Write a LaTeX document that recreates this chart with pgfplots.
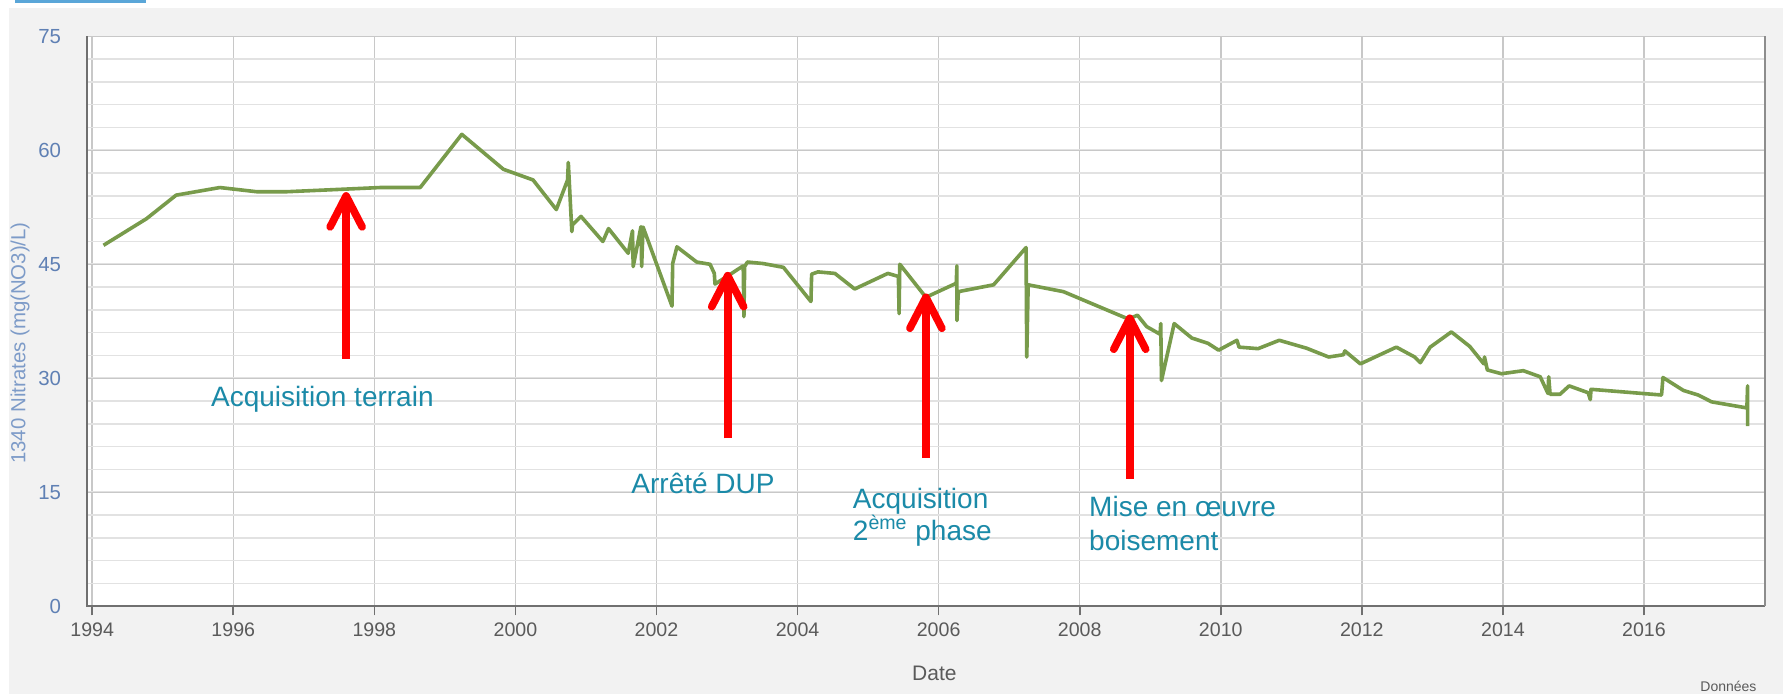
\documentclass[border=0pt]{standalone}
\usepackage{pgfplots}
\pgfplotsset{compat=1.18}
\usepackage{fontspec}
\setmainfont{Liberation Sans}
\definecolor{bg}{HTML}{F2F2F2}
\definecolor{tab}{HTML}{5AA6D8}
\definecolor{linegreen}{RGB}{120,155,75}
\definecolor{gridmaj}{HTML}{C8C8C8}
\definecolor{gridmin}{HTML}{E2E2E2}
\definecolor{axisdark}{HTML}{707070}
\definecolor{xtickcol}{HTML}{5A5A5A}
\definecolor{ytickcol}{RGB}{95,128,180}
\definecolor{ylabcol}{RGB}{125,155,200}
\definecolor{annot}{RGB}{27,138,168}
\definecolor{arrowred}{RGB}{255,0,0}
\begin{document}
\begin{tikzpicture}
\useasboundingbox (0,0) rectangle (891.5pt,347pt);
\fill[bg] (4.5pt,0) rectangle (891.5pt,343pt);
\fill[tab] (7.5pt,345.25pt) rectangle (73pt,347pt);
\node[anchor=south west, inner sep=0pt, font=\fontsize{7}{8}\selectfont, text=xtickcol] at (850pt,1pt) {Données};
\begin{axis}[
  at={(43.5pt,43.85pt)}, anchor=south west,
  scale only axis, width=839pt, height=285pt,
  xmin=1993.926, xmax=2017.717, ymin=0, ymax=75,
  clip=false,
  axis background/.style={fill=white},
  axis line style={draw=none},
  xtick={1994,1996,...,2016},
  ytick={0,15,...,75},
  minor ytick={3,6,...,72},
  xtick pos=bottom,
  ytick pos=left,
  grid=both,
  major grid style={color=gridmaj, line width=0.75pt},
  minor grid style={color=gridmin, line width=0.8pt},
  tick align=outside,
  major tick length=4.5pt,
  minor tick length=0pt,
  xtick style={draw=axisdark, line width=0.8pt},
  ytick style={draw=none},
  scaled x ticks=false,
  /pgf/number format/1000 sep={},
  /pgf/number format/assume math mode=true,
  xticklabel style={font=\fontsize{9.8}{11}\selectfont, text=xtickcol},
  yticklabel style={font=\fontsize{10.2}{11}\selectfont, text=ytickcol, xshift=-5pt},
  xlabel={Date},
  xlabel style={at={(axis description cs:0.505,-0.118)}, anchor=center, font=\fontsize{10.5}{11}\selectfont, text=xtickcol},
  ylabel={1340 Nitrates (mg(NO3)/L)},
  ylabel style={at={(axis description cs:-0.0399,0.462)}, anchor=center, font=\fontsize{10.2}{11}\selectfont, text=ylabcol},
]
\addplot[color=linegreen, line width=1.8pt, line join=round, mark=none] table {
1994.16 47.5
1994.77 51.0
1995.19 54.1
1995.81 55.1
1996.33 54.55
1996.76 54.55
1997.61 54.9
1998.08 55.1
1998.65 55.1
1999.24 62.1
1999.83 57.5
2000.25 56.1
2000.58 52.2
2000.74 56.1
2000.75 58.4
2000.80 49.3
2000.81 50.2
2000.93 51.3
2001.24 48.0
2001.32 49.7
2001.60 46.45
2001.66 49.4
2001.67 44.7
2001.78 49.95
2001.79 44.7
2001.81 49.9
2002.22 39.5
2002.23 45.1
2002.29 47.3
2002.57 45.3
2002.76 45.0
2002.82 43.8
2002.83 42.4
2003.00 43.4
2003.23 44.8
2003.24 38.1
2003.25 44.7
2003.29 45.3
2003.51 45.1
2003.80 44.6
2004.19 40.1
2004.20 43.7
2004.29 44.0
2004.53 43.8
2004.81 41.75
2005.28 43.8
2005.43 43.4
2005.44 38.5
2005.45 45.0
2005.82 40.66
2006.25 42.5
2006.26 44.8
2006.26 37.6
2006.28 41.4
2006.78 42.3
2007.24 47.2
2007.25 32.8
2007.27 42.3
2007.77 41.4
2008.69 37.8
2008.82 38.3
2008.95 36.8
2009.14 35.8
2009.15 37.2
2009.16 29.7
2009.34 37.2
2009.59 35.3
2009.82 34.6
2009.97 33.7
2010.23 35.0
2010.26 34.1
2010.53 33.9
2010.83 35.0
2011.22 33.95
2011.53 32.8
2011.74 33.1
2011.76 33.6
2011.98 31.9
2012.49 34.1
2012.75 32.8
2012.83 32.05
2012.97 34.1
2013.27 36.1
2013.53 34.2
2013.73 31.9
2013.74 32.8
2013.78 31.1
2013.98 30.6
2014.29 31.0
2014.53 30.2
2014.64 28.0
2014.65 30.2
2014.67 27.9
2014.81 27.9
2014.94 29.0
2015.21 28.1
2015.24 27.2
2015.25 28.55
2016.25 27.8
2016.27 30.1
2016.56 28.4
2016.77 27.8
2016.96 26.9
2017.46 26.1
2017.47 29.0
2017.47 23.7
};
% frame
\draw[color=axisdark, line width=1.2pt] (rel axis cs:0,1) -- (rel axis cs:0,0) -- (rel axis cs:1,0);
\draw[color=axisdark!80, line width=0.9pt] (rel axis cs:1,0) -- (rel axis cs:1,1);
% red arrows
\draw[arrowred, line width=3.8pt] (axis cs:1997.60,32.6) -- (axis cs:1997.60,53.6);
\draw[arrowred, line width=3.8pt, line cap=round, line join=round] (axis cs:1997.60,54.0) ++(-8pt,-15.5pt) -- (axis cs:1997.60,54.0) -- ++(8pt,-15.5pt);
\draw[arrowred, line width=3.8pt] (axis cs:2003.01,22.1) -- (axis cs:2003.01,43.1);
\draw[arrowred, line width=3.8pt, line cap=round, line join=round] (axis cs:2003.01,43.5) ++(-8pt,-15.5pt) -- (axis cs:2003.01,43.5) -- ++(8pt,-15.5pt);
\draw[arrowred, line width=3.8pt] (axis cs:2005.82,19.5) -- (axis cs:2005.82,40.3);
\draw[arrowred, line width=3.8pt, line cap=round, line join=round] (axis cs:2005.82,40.66) ++(-8pt,-15.5pt) -- (axis cs:2005.82,40.66) -- ++(8pt,-15.5pt);
\draw[arrowred, line width=3.8pt] (axis cs:2008.71,16.75) -- (axis cs:2008.71,37.5);
\draw[arrowred, line width=3.8pt, line cap=round, line join=round] (axis cs:2008.71,37.9) ++(-8pt,-15.5pt) -- (axis cs:2008.71,37.9) -- ++(8pt,-15.5pt);
% annotations
\node[anchor=base west, inner sep=0pt, text=annot, font=\fontsize{14}{16}\selectfont] at (axis cs:1995.68,26.3) {Acquisition terrain};
\node[anchor=base west, inner sep=0pt, text=annot, font=\fontsize{14}{16}\selectfont] at (axis cs:2001.64,14.84) {Arrêté DUP};
\node[anchor=base west, inner sep=0pt, text=annot, font=\fontsize{14}{16}\selectfont] at (axis cs:2004.78,12.9) {Acquisition};
\node[anchor=base west, inner sep=0pt, text=annot, font=\fontsize{14}{16}\selectfont] at (axis cs:2004.78,8.7) {2\textsuperscript{ème} phase};
\node[anchor=base west, inner sep=0pt, text=annot, font=\fontsize{14}{16}\selectfont] at (axis cs:2008.13,11.75) {Mise en œuvre};
\node[anchor=base west, inner sep=0pt, text=annot, font=\fontsize{14}{16}\selectfont] at (axis cs:2008.13,7.3) {boisement};
\end{axis}
\end{tikzpicture}
\end{document}
